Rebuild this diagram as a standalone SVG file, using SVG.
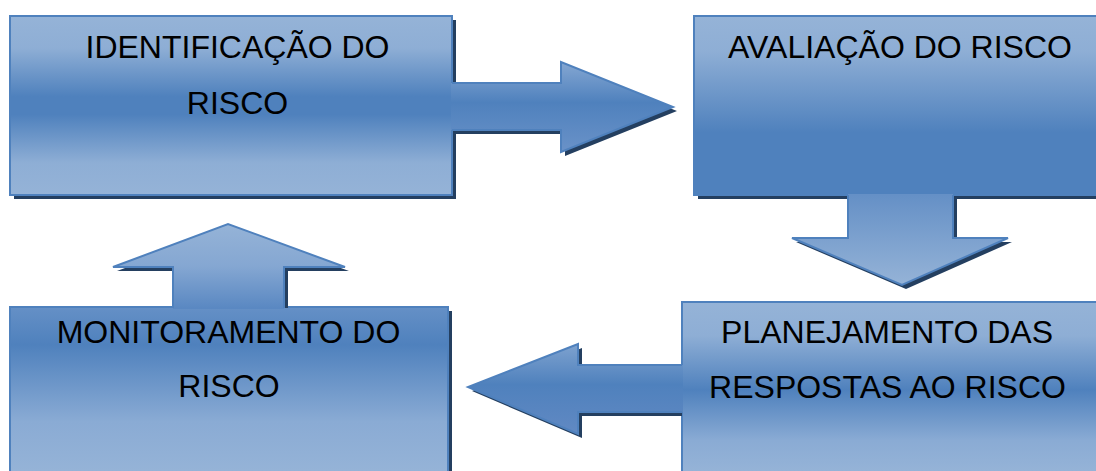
<svg xmlns="http://www.w3.org/2000/svg" width="1096" height="471" viewBox="0 0 1096 471">
<defs>
<linearGradient id="g1" gradientUnits="userSpaceOnUse" x1="0" y1="16" x2="0" y2="195">
<stop offset="0" stop-color="#95b3d7"/><stop offset="0.18" stop-color="#8eaed5"/><stop offset="0.45" stop-color="#4f81bd"/><stop offset="0.55" stop-color="#4f81bd"/><stop offset="0.82" stop-color="#8eaed5"/><stop offset="1" stop-color="#95b3d7"/>
</linearGradient>
<linearGradient id="g2" gradientUnits="userSpaceOnUse" x1="0" y1="16" x2="0" y2="195">
<stop offset="0" stop-color="#95b3d7"/><stop offset="0.2" stop-color="#8eaed5"/><stop offset="0.65" stop-color="#4f81bd"/><stop offset="1" stop-color="#4f81bd"/>
</linearGradient>
<linearGradient id="g3" gradientUnits="userSpaceOnUse" x1="0" y1="307" x2="0" y2="471">
<stop offset="0" stop-color="#6590c6"/><stop offset="0.23" stop-color="#4f81bd"/><stop offset="0.7" stop-color="#8aabd4"/><stop offset="1" stop-color="#95b3d7"/>
</linearGradient>
<linearGradient id="g4" gradientUnits="userSpaceOnUse" x1="0" y1="302" x2="0" y2="471">
<stop offset="0" stop-color="#95b3d7"/><stop offset="0.2" stop-color="#8eaed5"/><stop offset="0.52" stop-color="#4f81bd"/><stop offset="0.82" stop-color="#8aabd4"/><stop offset="1" stop-color="#95b3d7"/>
</linearGradient>
<linearGradient id="ga1" gradientUnits="userSpaceOnUse" x1="0" y1="62" x2="0" y2="152">
<stop offset="0" stop-color="#85a7d2"/><stop offset="0.45" stop-color="#4f81bd"/><stop offset="1" stop-color="#6a92c8"/>
</linearGradient>
<linearGradient id="ga2" gradientUnits="userSpaceOnUse" x1="0" y1="195" x2="0" y2="285">
<stop offset="0" stop-color="#6590c6"/><stop offset="1" stop-color="#95b3d7"/>
</linearGradient>
<linearGradient id="ga3" gradientUnits="userSpaceOnUse" x1="0" y1="224" x2="0" y2="308">
<stop offset="0" stop-color="#95b3d7"/><stop offset="0.5" stop-color="#85a7d2"/><stop offset="1" stop-color="#5a88c2"/>
</linearGradient>
<linearGradient id="ga4" gradientUnits="userSpaceOnUse" x1="0" y1="344" x2="0" y2="434">
<stop offset="0" stop-color="#7ea2cf"/><stop offset="0.45" stop-color="#4f81bd"/><stop offset="1" stop-color="#6189c3"/>
</linearGradient>
</defs>
<style>
.sh{fill:#243f60;stroke:none}
.bx{stroke:#4f81bd;stroke-width:2}
.af{stroke:none}
.as{fill:none;stroke:#4f81bd;stroke-width:2;stroke-linejoin:miter}
.t{font-family:"Liberation Sans",Arial,sans-serif;font-size:32px;fill:#000;text-anchor:middle}
</style>
<g id="node-identificacao">
<rect class="sh" x="14" y="20" width="442" height="179"/>
<rect class="bx" x="10" y="16" width="442" height="179" fill="url(#g1)"/>
<text class="t" x="237.5" y="58">IDENTIFICAÇÃO DO</text>
<text class="t" x="237.5" y="114">RISCO</text>
</g>
<g id="node-avaliacao">
<rect class="sh" x="698" y="20" width="420" height="179"/>
<rect class="bx" x="694" y="16" width="420" height="179" fill="url(#g2)"/>
<text class="t" x="900" y="58">AVALIAÇÃO DO RISCO</text>
</g>
<g id="node-monitoramento">
<rect class="sh" x="14" y="311" width="438" height="200"/>
<rect class="bx" x="10" y="307" width="438" height="200" fill="url(#g3)"/>
<text class="t" x="228.5" y="343">MONITORAMENTO DO</text>
<text class="t" x="229" y="397">RISCO</text>
</g>
<g id="node-planejamento">
<rect class="sh" x="686" y="306" width="430" height="200"/>
<rect class="bx" x="682" y="302" width="430" height="200" fill="url(#g4)"/>
<text class="t" x="887" y="343">PLANEJAMENTO DAS</text>
<text class="t" x="887.5" y="398">RESPOSTAS AO RISCO</text>
</g>
<g id="connectors">
<g id="arrow-right">
<polygon class="sh" points="454,87 565,87 565,66 677,111 565,156 565,134 454,134"/>
<polygon class="af" points="451,83 561,83 561,62 673,107 561,152 561,130 451,130" fill="url(#ga1)"/>
<polyline class="as" points="452,83 561,83 561,62 673,107 561,152 561,130 452,130"/>
</g>
<g id="arrow-down">
<polygon class="sh" points="852,197 852,242 796,242 906,289 1012,242 957,242 957,197"/>
<polygon class="af" points="848,194 848,238 792,238 902,285 1008,238 953,238 953,194" fill="url(#ga2)"/>
<polyline class="as" points="848,195 848,238 792,238 902,285 1008,238 953,238 953,195"/>
</g>
<g id="arrow-up">
<polygon class="sh" points="177,308 177,271 117,271 232,228 349,271 288,271 288,308"/>
<polygon class="af" points="173,309 173,267 113,267 228,224 345,267 284,267 284,309" fill="url(#ga3)"/>
<polyline class="as" points="173,308 173,267 113,267 228,224 345,267 284,267 284,308"/>
</g>
<g id="arrow-left">
<polygon class="sh" points="682,369 582,369 582,348 472,391 582,438 582,416 682,416"/>
<polygon class="af" points="683,365 578,365 578,344 468,387 578,434 578,412 683,412" fill="url(#ga4)"/>
<polyline class="as" points="682,365 578,365 578,344 468,387 578,434 578,412 682,412"/>
</g>
</g>
</svg>
